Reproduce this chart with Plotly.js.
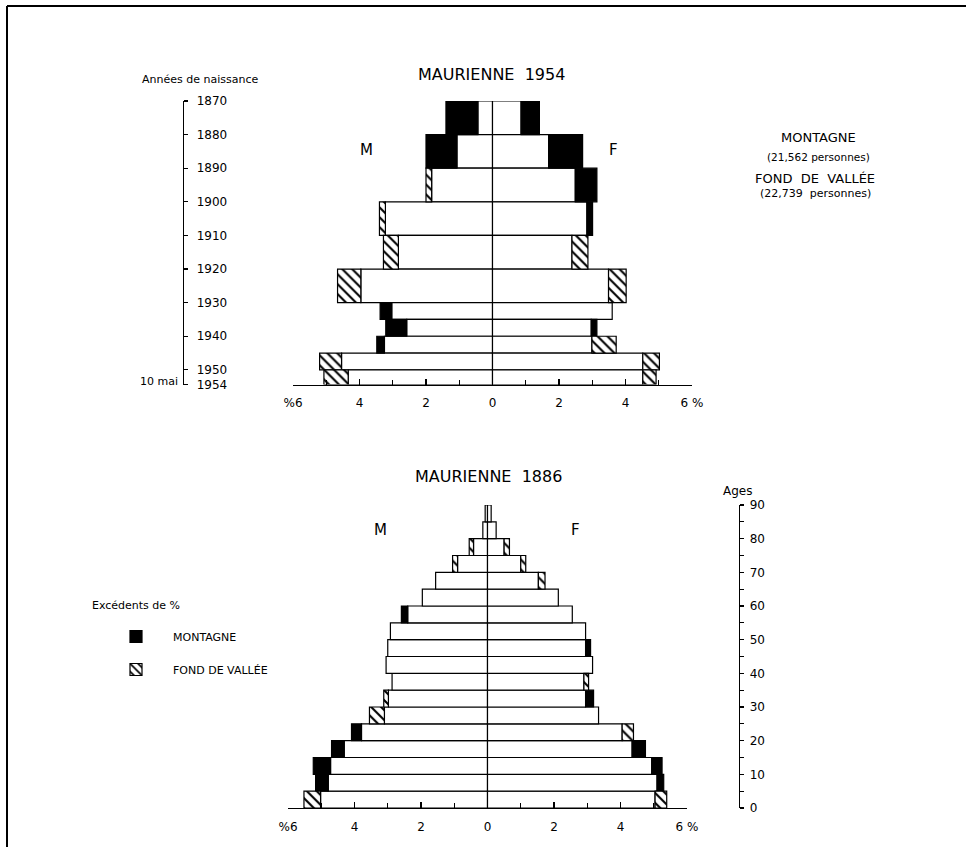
<!DOCTYPE html>
<html><head><meta charset="utf-8">
<script src="https://cdn.plot.ly/plotly-3.0.1.min.js"></script>
<style>html,body{margin:0;padding:0;background:#fff;overflow:hidden}</style>
</head><body><div id="chart" style="width:966px;height:847px"></div>
<script>
// ---- MAURIENNE 1954 (années de naissance) ----
const birthStart = [1870, 1880, 1890, 1900, 1910, 1920, 1930, 1935, 1940, 1945, 1950];
const birthEnd   = [1880, 1890, 1900, 1910, 1920, 1930, 1935, 1940, 1945, 1950, 1954.36];
const m54Montagne = [1.40, 2.00, 1.83, 3.22, 2.83, 3.96, 3.38, 3.21, 3.48, 4.54, 4.34];
const m54Vallee   = [0.44, 1.07, 2.00, 3.40, 3.28, 4.66, 3.03, 2.58, 3.25, 5.20, 5.07];
const f54Montagne = [1.41, 2.71, 3.14, 3.01, 2.39, 3.49, 3.60, 3.14, 2.99, 4.52, 4.52];
const f54Vallee   = [0.86, 1.69, 2.49, 2.84, 2.87, 4.02, 3.60, 2.97, 3.72, 5.02, 4.92];
const yearTicks   = [1870, 1880, 1890, 1900, 1910, 1920, 1930, 1940, 1950, 1954.36];
const yearLabels  = ['1870','1880','1890','1900','1910','1920','1930','1940','1950','1954'];

// ---- MAURIENNE 1886 (âges) ----
const ageStart = [0, 5, 10, 15, 20, 25, 30, 35, 40, 45, 50, 55, 60, 65, 70, 75, 80, 85];
const ageEnd   = [5, 10, 15, 20, 25, 30, 35, 40, 45, 50, 55, 60, 65, 70, 75, 80, 85, 90];
const m86Montagne = [5.02, 5.17, 5.24, 4.69, 4.09, 3.10, 2.98, 2.87, 3.05, 3.00, 2.92, 2.59, 1.96, 1.56, 0.90, 0.42, 0.14, 0.07];
const m86Vallee   = [5.52, 4.79, 4.72, 4.31, 3.79, 3.55, 3.12, 2.87, 3.05, 3.00, 2.92, 2.40, 1.96, 1.56, 1.05, 0.55, 0.14, 0.07];
const f86Montagne = [5.04, 5.30, 5.25, 4.75, 4.05, 3.34, 3.19, 2.90, 3.16, 3.10, 2.95, 2.55, 2.13, 1.53, 1.00, 0.50, 0.26, 0.11];
const f86Vallee   = [5.39, 5.10, 4.94, 4.35, 4.39, 3.34, 2.95, 3.04, 3.16, 2.95, 2.95, 2.55, 2.13, 1.73, 1.15, 0.66, 0.26, 0.11];
const ageTicks = [0, 10, 20, 30, 40, 50, 60, 70, 80, 90];

const pctTicks  = [-6, -4, -2, 0, 2, 4, 6];
const pctLabels = ['%6', '4', '2', '0', '2', '4', '6 %'];

const FONT = 'DejaVu Sans';
const W = 966, H = 847;
const px = v => v / W, py = v => 1 - v / H;

function pyramid(starts, ends, mMont, mVall, fMont, fVall, xa, ya, legend) {
  const mid = starts.map((s, i) => (s + ends[i]) / 2);
  const wid = starts.map((s, i) => Math.abs(ends[i] - s));
  const yy = mid.concat(mid), ww = wid.concat(wid);
  const sides = [[-1, mMont, mVall], [1, fMont, fVall]];
  const common = [], base = [], exMont = [], exVall = [];
  sides.forEach(([s, mo, va]) => {
    mo.forEach((v, i) => {
      const c = Math.min(v, va[i]);
      common.push(s * c); base.push(s * c);
      exMont.push(v > va[i] ? s * (v - va[i]) : null);
      exVall.push(va[i] > v ? s * (va[i] - v) : null);
    });
  });
  const line = {color: 'black', width: 1.2};
  return [
    {type: 'bar', orientation: 'h', x: common, y: yy, width: ww, base: 0,
     xaxis: xa, yaxis: ya, marker: {color: 'white', line: line}, showlegend: false},
    {type: 'bar', orientation: 'h', x: exMont, y: yy, width: ww, base: base,
     xaxis: xa, yaxis: ya, name: 'MONTAGNE', legendgroup: 'mont', showlegend: legend,
     marker: {color: 'black', line: line}},
    {type: 'bar', orientation: 'h', x: exVall, y: yy, width: ww, base: base,
     xaxis: xa, yaxis: ya, name: 'FOND DE VALLÉE', legendgroup: 'vall', showlegend: legend,
     marker: {color: 'white', line: line,
              pattern: {shape: '\\', fgcolor: 'black', bgcolor: 'white', size: 7, solidity: 0.3}}}
  ];
}

const traces = [].concat(
  pyramid(birthStart, birthEnd, m54Montagne, m54Vallee, f54Montagne, f54Vallee, 'x', 'y', false),
  pyramid(ageStart, ageEnd, m86Montagne, m86Vallee, f86Montagne, f86Vallee, 'x2', 'y2', true)
);

function pctAxis(domain, anchor) {
  return {domain: domain, range: [-6, 6], anchor: anchor, showline: true, linecolor: 'black', linewidth: 1.3,
    ticks: 'inside', ticklen: 6, tickwidth: 1.3, tickcolor: 'black', ticklabelstandoff: 7,
    tickvals: pctTicks, ticktext: pctLabels,
    minor: {dtick: 1, tick0: 0, ticks: 'inside', ticklen: 5, tickwidth: 1.2, tickcolor: 'black'},
    showgrid: false, zeroline: false, fixedrange: true,
    tickfont: {family: FONT, size: 12, color: 'black'}};
}
function sideAxis(extra) {
  return Object.assign({anchor: 'free', side: 'right', showline: true, linecolor: 'black', linewidth: 1.3,
    ticks: 'outside', ticklen: 4, tickwidth: 1.2, tickcolor: 'black', showgrid: false, zeroline: false,
    ticklabelstandoff: 6,
    fixedrange: true, tickfont: {family: FONT, size: 12, color: 'black'}}, extra);
}

const ann = (x, y, text, size, anchor) => ({xref: 'paper', yref: 'paper', x: px(x), y: py(y), text: text,
  showarrow: false, xanchor: anchor || 'center', yanchor: 'middle', font: {family: FONT, size: size, color: 'black'}});

const layout = {
  width: W, height: H, margin: {l: 0, r: 0, t: 0, b: 0},
  paper_bgcolor: 'white', plot_bgcolor: 'rgba(0,0,0,0)', barmode: 'overlay', bargap: 0,
  font: {family: FONT, color: 'black'},
  xaxis: pctAxis([px(293), px(692)], 'y'),
  yaxis: sideAxis({domain: [py(384.5), py(101)], range: [1954.36, 1870], position: px(183),
    tickvals: yearTicks, ticktext: yearLabels}),
  yaxis3: sideAxis({overlaying: 'y', range: [1954.36, 1870], position: px(183), ticks: 'inside',
    tickvals: yearTicks, showticklabels: false, showline: false}),
  xaxis2: pctAxis([px(288), px(687)], 'y2'),
  yaxis2: sideAxis({domain: [py(808), py(505)], range: [0, 90], position: px(739), ticklabelstandoff: 3,
    tickvals: ageTicks, minor: {dtick: 5, ticks: 'outside', ticklen: 4, tickcolor: 'black'}}),
  yaxis4: sideAxis({overlaying: 'y2', range: [0, 90], position: px(739), ticks: 'inside',
    tickvals: ageTicks, showticklabels: false, showline: false,
    minor: {dtick: 5, ticks: 'inside', ticklen: 4, tickcolor: 'black'}}),
  legend: {x: px(99), y: py(622), xanchor: 'left', yanchor: 'top', bgcolor: 'rgba(0,0,0,0)',
    itemwidth: 64, traceorder: 'grouped', tracegroupgap: 14,
    font: {family: FONT, size: 11, color: 'black'}},
  annotations: [
    ann(492, 75, 'MAURIENNE  1954', 16),
    ann(140, 80, 'Années de naissance', 11, 'left'),
    ann(180, 381, '10 mai', 11, 'right'),
    ann(366, 150, 'M', 15), ann(613, 150, 'F', 15),
    ann(818, 138, 'MONTAGNE', 13),
    ann(818, 157, '(21,562 personnes)', 10.5),
    ann(815, 178, 'FOND  DE  VALLÉE', 13),
    ann(815, 194, '(22,739  personnes)', 11),
    ann(488, 476, 'MAURIENNE  1886', 16),
    ann(380, 530, 'M', 15), ann(575, 530, 'F', 15),
    ann(737, 491, 'Ages', 12),
    ann(90, 605, 'Excédents de %', 11, 'left')
  ],
  shapes: [
    {type: 'line', xref: 'paper', yref: 'paper', x0: px(7), x1: 1, y0: py(6), y1: py(6), line: {color: 'black', width: 2}},
    {type: 'line', xref: 'paper', yref: 'paper', x0: px(7), x1: px(7), y0: py(6), y1: 0, line: {color: 'black', width: 2}}
  ]
};

Plotly.newPlot('chart', traces, layout, {displayModeBar: false, staticPlot: true});
</script></body></html>
